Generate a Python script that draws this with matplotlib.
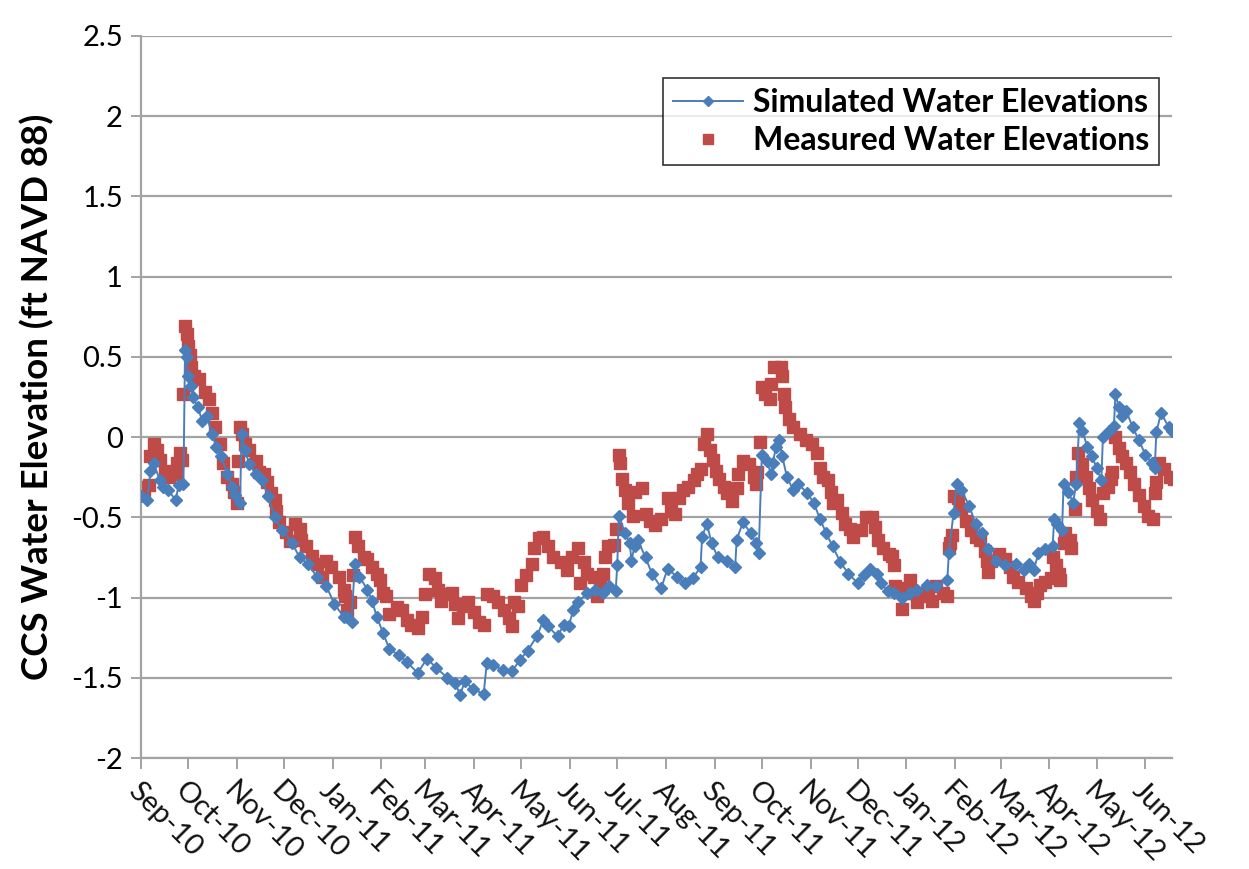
import numpy as np
import pandas as pd
import matplotlib
matplotlib.use("Agg")
import matplotlib.pyplot as plt
import matplotlib.dates as mdates
from matplotlib.ticker import FuncFormatter

# ---- data (days since 2010-09-01, elevation ft NAVD 88) ----
sim_days = [0, 4, 6, 8, 12, 14, 17, 22, 24, 27, 28, 29, 30, 32, 33, 36, 39, 42, 45, 48,
            51, 55, 58, 60, 63, 64, 66, 69, 73, 77, 81, 85, 90, 96, 101, 106, 112, 118, 123, 129,
            131, 134, 136, 139, 144, 147, 150, 154, 158, 164, 169, 176, 182, 188, 195, 200, 203, 206, 211, 218,
            220, 224, 230, 236, 241, 246, 252, 256, 259, 265, 269, 272, 275, 278, 284, 289, 294, 298, 302, 303,
            304, 308, 311, 312, 314, 316, 321, 325, 331, 335, 341, 346, 351, 356, 357, 360, 363, 367, 373, 378,
            379, 383, 388, 391, 393, 395, 398, 401, 402, 404, 406, 408, 411, 415, 418, 424, 428, 432, 436, 440,
            445, 450, 456, 460, 464, 468, 471, 475, 479, 484, 489, 494, 500, 506, 513, 514, 517, 519, 522, 527,
            531, 535, 539, 544, 550, 557, 562, 565, 568, 571, 575, 580, 581, 583, 586, 587, 590, 593, 595, 597,
            599, 602, 605, 608, 611, 612, 616, 619, 620, 622, 624, 627, 631, 635, 639, 643, 645, 646, 649, 654,
            656]
sim_vals = [-0.37, -0.39, -0.21, -0.16, -0.27, -0.31, -0.33, -0.39, -0.30, -0.29, 0.54, 0.50, 0.38, 0.32, 0.25, 0.19, 0.10, 0.13, 0.02, -0.06,
            -0.12, -0.23, -0.31, -0.36, -0.41, 0.02, -0.08, -0.17, -0.23, -0.27, -0.37, -0.50, -0.58, -0.66, -0.75, -0.79, -0.87, -0.93, -1.04, -1.12,
            -1.12, -1.15, -0.79, -0.87, -0.95, -1.02, -1.12, -1.22, -1.32, -1.36, -1.40, -1.47, -1.38, -1.44, -1.50, -1.53, -1.61, -1.52, -1.57, -1.60,
            -1.41, -1.42, -1.45, -1.46, -1.39, -1.33, -1.24, -1.14, -1.18, -1.24, -1.17, -1.18, -1.08, -1.03, -0.97, -0.95, -0.97, -0.93, -0.96, -0.80,
            -0.49, -0.60, -0.66, -0.77, -0.68, -0.64, -0.75, -0.85, -0.94, -0.82, -0.87, -0.91, -0.88, -0.81, -0.62, -0.54, -0.66, -0.75, -0.77, -0.81,
            -0.64, -0.53, -0.60, -0.66, -0.72, -0.11, -0.15, -0.23, -0.16, -0.06, -0.02, -0.12, -0.25, -0.33, -0.29, -0.35, -0.41, -0.51, -0.60, -0.68,
            -0.78, -0.85, -0.91, -0.86, -0.82, -0.85, -0.91, -0.96, -0.97, -1.00, -0.97, -0.95, -0.92, -0.93, -0.89, -0.72, -0.47, -0.29, -0.33, -0.43,
            -0.54, -0.60, -0.70, -0.77, -0.80, -0.79, -0.83, -0.79, -0.83, -0.72, -0.70, -0.68, -0.51, -0.54, -0.58, -0.29, -0.34, -0.41, -0.29, 0.09,
            0.04, -0.06, -0.12, -0.19, -0.27, 0.00, 0.04, 0.07, 0.27, 0.19, 0.13, 0.16, 0.06, -0.02, -0.11, -0.16, -0.19, 0.03, 0.15, 0.06,
            0.04]

meas_days = [0, 2, 5, 6, 8, 10, 12, 15, 18, 22, 23, 25, 26, 27, 28, 29, 30, 31, 32, 34,
             37, 41, 43, 45, 47, 50, 52, 55, 58, 59, 61, 62, 63, 64, 66, 69, 73, 75, 78, 80,
             83, 85, 86, 88, 92, 95, 98, 101, 102, 105, 109, 112, 115, 118, 121, 126, 129, 130, 131, 133,
             135, 136, 138, 142, 144, 147, 150, 152, 154, 156, 158, 163, 166, 169, 172, 176, 179, 181, 183, 187,
             189, 191, 195, 198, 200, 202, 205, 208, 212, 215, 218, 220, 224, 227, 231, 234, 236, 237, 240, 242,
             245, 249, 250, 253, 256, 259, 262, 267, 271, 274, 278, 279, 282, 284, 288, 290, 292, 294, 295, 297,
             301, 302, 304, 305, 306, 308, 310, 313, 314, 319, 321, 324, 327, 331, 335, 337, 340, 342, 345, 348,
             352, 354, 356, 358, 360, 362, 364, 366, 368, 371, 373, 376, 379, 380, 383, 387, 390, 391, 392, 394,
             395, 397, 400, 401, 403, 407, 408, 409, 410, 412, 415, 419, 423, 427, 430, 432, 434, 437, 439, 440,
             443, 446, 448, 451, 453, 458, 461, 465, 467, 469, 472, 476, 478, 479, 480, 483, 484, 486, 489, 492,
             494, 498, 501, 503, 506, 510, 513, 514, 515, 516, 517, 520, 522, 525, 528, 531, 534, 537, 538, 539,
             541, 546, 550, 553, 555, 558, 563, 566, 568, 570, 572, 575, 579, 580, 582, 584, 585, 587, 588, 591,
             592, 594, 595, 596, 599, 601, 603, 605, 608, 610, 612, 615, 617, 618, 620, 622, 624, 627, 629, 632,
             635, 638, 641, 644, 645, 646, 648, 651, 655, 657]
meas_vals = [-0.31, -0.33, -0.30, -0.12, -0.04, -0.08, -0.14, -0.21, -0.25, -0.23, -0.16, -0.10, -0.14, 0.27, 0.69, 0.64, 0.57, 0.51, 0.44, 0.38,
             0.36, 0.28, 0.24, 0.15, 0.06, -0.04, -0.16, -0.25, -0.29, -0.34, -0.41, -0.15, 0.06, 0.02, -0.04, -0.08, -0.15, -0.22, -0.23, -0.28,
             -0.35, -0.39, -0.46, -0.53, -0.59, -0.65, -0.54, -0.57, -0.64, -0.68, -0.74, -0.79, -0.87, -0.77, -0.81, -0.87, -0.95, -0.99, -1.08, -1.03,
             -0.86, -0.62, -0.68, -0.75, -0.76, -0.81, -0.85, -0.89, -0.97, -0.99, -1.10, -1.06, -1.08, -1.14, -1.17, -1.19, -1.12, -0.98, -0.85, -0.88,
             -0.95, -1.02, -0.98, -0.97, -1.04, -1.13, -1.05, -1.03, -1.09, -1.15, -1.17, -0.98, -0.99, -1.03, -1.08, -1.13, -1.18, -1.03, -1.05, -0.92,
             -0.86, -0.79, -0.69, -0.63, -0.62, -0.68, -0.75, -0.78, -0.83, -0.75, -0.69, -0.91, -0.78, -0.85, -0.87, -0.99, -0.93, -0.85, -0.75, -0.68,
             -0.67, -0.57, -0.11, -0.16, -0.26, -0.33, -0.41, -0.49, -0.34, -0.32, -0.48, -0.52, -0.55, -0.51, -0.38, -0.46, -0.48, -0.38, -0.33, -0.31,
             -0.27, -0.23, -0.20, -0.04, 0.02, -0.08, -0.14, -0.21, -0.26, -0.31, -0.35, -0.40, -0.32, -0.23, -0.15, -0.17, -0.25, -0.29, -0.22, -0.03,
             0.31, 0.27, 0.24, 0.33, 0.44, 0.44, 0.38, 0.27, 0.19, 0.11, 0.06, 0.02, -0.02, -0.04, -0.10, -0.19, -0.25, -0.27, -0.34, -0.41,
             -0.39, -0.47, -0.54, -0.57, -0.62, -0.58, -0.50, -0.50, -0.56, -0.64, -0.69, -0.73, -0.74, -0.80, -0.93, -0.94, -1.07, -0.97, -0.89, -0.97,
             -1.03, -0.99, -0.97, -1.02, -0.93, -0.97, -0.99, -0.69, -0.66, -0.61, -0.37, -0.38, -0.45, -0.52, -0.58, -0.62, -0.64, -0.71, -0.77, -0.84,
             -0.77, -0.73, -0.76, -0.81, -0.87, -0.90, -0.94, -0.99, -1.02, -0.97, -0.92, -0.90, -0.88, -0.75, -0.80, -0.85, -0.89, -0.66, -0.60, -0.64,
             -0.69, -0.45, -0.25, -0.10, -0.17, -0.25, -0.32, -0.39, -0.46, -0.51, -0.35, -0.31, -0.26, -0.22, 0.00, -0.07, -0.12, -0.16, -0.22, -0.29,
             -0.36, -0.43, -0.49, -0.51, -0.35, -0.28, -0.16, -0.20, -0.25, -0.26]

start_date = "2010-09-01"
end_date = "2012-06-18"
y_ticks = [-2, -1.5, -1, -0.5, 0, 0.5, 1, 1.5, 2, 2.5]
series_names = ["Simulated Water Elevations", "Measured Water Elevations"]
y_label = "CCS Water Elevation (ft NAVD 88)"

# ---- build ----
base = pd.Timestamp(start_date)
sim_dates = base + pd.to_timedelta(sim_days, unit="D")
meas_dates = base + pd.to_timedelta(meas_days, unit="D")

plt.rcParams["font.family"] = ["Lato", "DejaVu Sans"]
plt.rcParams["axes.unicode_minus"] = False

fig = plt.figure(figsize=(12.49, 8.69), dpi=100)
ax = fig.add_axes([0.1129, 0.1277, 0.8255, 0.8309])

blue = "#4A7EBB"
red = "#BE4B48"
grid_c = "#A3A3A3"

ax.plot(sim_dates, sim_vals, color=blue, lw=1.4, marker="D", ms=6.5,
        mec=blue, mfc=blue, label=series_names[0], zorder=3)
ax.plot(meas_dates, meas_vals, ls="none", color=red, marker="s", ms=8.3,
        mec=red, mfc=red, label=series_names[1], zorder=2)

ax.set_ylim(min(y_ticks), max(y_ticks))
ax.set_yticks(y_ticks)
ax.yaxis.set_major_formatter(FuncFormatter(lambda v, p: f"{v:g}"))
ax.set_xlim(base, pd.Timestamp(end_date))
ax.xaxis.set_major_locator(mdates.MonthLocator())
ax.xaxis.set_major_formatter(mdates.DateFormatter("%b-%y"))

ax.grid(axis="y", color=grid_c, lw=1.6)
ax.set_axisbelow(True)
for s in ["top", "right"]:
    ax.spines[s].set_visible(False)
for s in ["left", "bottom"]:
    ax.spines[s].set_color(grid_c)
    ax.spines[s].set_linewidth(1.6)

ax.tick_params(axis="y", length=7, width=1.4, color=grid_c, labelsize=21, pad=6, labelcolor="#000000")
ax.tick_params(axis="x", length=8, width=1.4, color=grid_c, labelsize=21, pad=6, labelcolor="#111111")
for lab in ax.get_xticklabels():
    lab.set_rotation(-45)
    lab.set_ha("left")
    lab.set_va("top")
    lab.set_rotation_mode("anchor")

ax.set_ylabel(y_label, fontsize=26.5, fontweight="bold", labelpad=12)

leg = ax.legend(loc="upper right", bbox_to_anchor=(0.987, 0.9415),
                prop={"weight": "bold", "size": 23}, frameon=True, fancybox=False,
                edgecolor="#000000", handlelength=2.2, borderpad=0.3, labelspacing=0.3,
                handletextpad=0.3, borderaxespad=0)
leg.get_frame().set_linewidth(1.2)
leg.legend_handles[0].set_markersize(5)
leg.legend_handles[1].set_markersize(6.5)

fig.savefig("out.png", dpi=100)
